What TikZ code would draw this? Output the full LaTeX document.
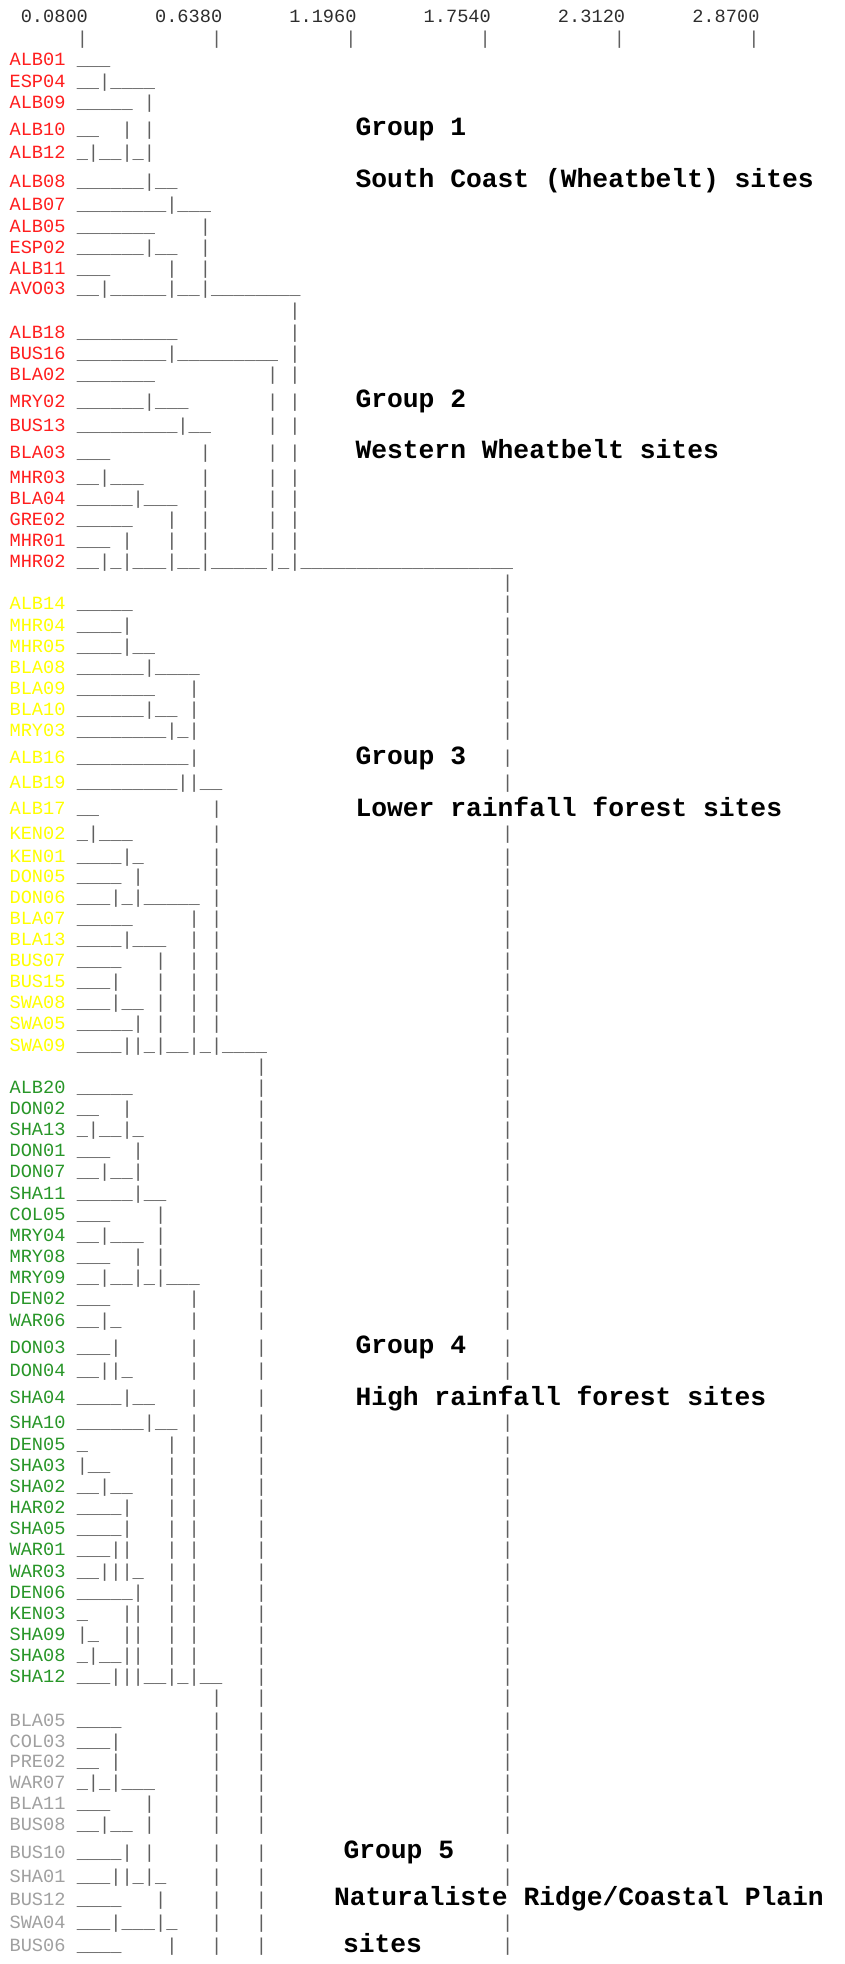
\documentclass[tikz,border=0pt]{standalone}
\usepackage{fontspec}
\newfontfamily\mono{Liberation Mono}
\definecolor{gOne}{RGB}{255,30,30}
\definecolor{gThree}{RGB}{255,255,0}
\definecolor{gFour}{RGB}{40,150,40}
\definecolor{gFive}{RGB}{160,160,160}
\definecolor{treegray}{RGB}{95,95,95}
\definecolor{hdrgray}{RGB}{45,45,45}
\newlength\cw
\newcommand\spc[1]{\hspace*{#1\cw}}
% one site row: label in its group colour, then the tree characters from column 6
\newcommand\site[4]{%
  \node[lbl,text=#2] (#1) at (9.6,{#4+5.6}) {#1};
  \node[tree] (t#1) at (76.75,{#4+5.6}) {#3};}
\begin{document}
\settowidth{\cw}{\mono\fontsize{18.65pt}{20pt}\selectfont M}
\catcode`\_=12
\begin{tikzpicture}[x=1pt,y=-1pt,
  lbl/.style={anchor=base west,inner sep=0pt,outer sep=0pt,
    font=\mono\frenchspacing\fontsize{18.65pt}{20pt}\selectfont},
  tree/.style={lbl,text=treegray},
  hdr/.style={lbl,text=hdrgray},
  grp/.style={anchor=base west,inner sep=0pt,outer sep=0pt,text=black,
    font=\mono\bfseries\frenchspacing\fontsize{26.33pt}{28pt}\selectfont}]
\fill[white] (0,0) rectangle (845,1964);
\useasboundingbox (0,0) rectangle (845,1964);

% distance scale
\node[hdr] (scale) at (9.6,22.9) {\spc{1}0.0800\spc{6}0.6380\spc{6}1.1960\spc{6}1.7540\spc{6}2.3120\spc{6}2.8700};
\node[tree] (ticks) at (9.6,44.5) {\spc{6}|\spc{11}|\spc{11}|\spc{11}|\spc{11}|\spc{11}|};

% group 1 and group 2
\site{ALB01}{gOne}{___}{60}
\site{ESP04}{gOne}{__|____}{81.7}
\site{ALB09}{gOne}{_____\spc{1}|}{103.3}
\site{ALB10}{gOne}{__\spc{2}|\spc{1}|}{130}
\site{ALB12}{gOne}{_|__|_|}{153.3}
\site{ALB08}{gOne}{______|__}{181.7}
\site{ALB07}{gOne}{________|___}{205}
\site{ALB05}{gOne}{_______\spc{4}|}{227.3}
\site{ESP02}{gOne}{______|__\spc{2}|}{248.3}
\site{ALB11}{gOne}{___\spc{5}|\spc{2}|}{269}
\site{AVO03}{gOne}{__|_____|__|________}{289.3}
\node[tree] (gapA) at (76.75,316.6) {\spc{19}|};
\site{ALB18}{gOne}{_________\spc{10}|}{332.7}
\site{BUS16}{gOne}{________|_________\spc{1}|}{354}
\site{BLA02}{gOne}{_______\spc{10}|\spc{1}|}{375}
\site{MRY02}{gOne}{______|___\spc{7}|\spc{1}|}{401.7}
\site{BUS13}{gOne}{_________|__\spc{5}|\spc{1}|}{426}
\site{BLA03}{gOne}{___\spc{8}|\spc{5}|\spc{1}|}{452.7}
\site{MHR03}{gOne}{__|___\spc{5}|\spc{5}|\spc{1}|}{477.7}
\site{BLA04}{gOne}{_____|___\spc{2}|\spc{5}|\spc{1}|}{499.3}
\site{GRE02}{gOne}{_____\spc{3}|\spc{2}|\spc{5}|\spc{1}|}{520}
\site{MHR01}{gOne}{___\spc{1}|\spc{3}|\spc{2}|\spc{5}|\spc{1}|}{541}
\site{MHR02}{gOne}{__|_|___|__|_____|_|___________________}{561.7}
\node[tree] (gapB) at (76.75,588.6) {\spc{38}|};

% group 3
\site{ALB14}{gThree}{_____\spc{33}|}{604.3}
\site{MHR04}{gThree}{____|\spc{33}|}{625.7}
\site{MHR05}{gThree}{____|__\spc{31}|}{646.7}
\site{BLA08}{gThree}{______|____\spc{27}|}{667.7}
\site{BLA09}{gThree}{_______\spc{3}|\spc{27}|}{689.3}
\site{BLA10}{gThree}{______|__\spc{1}|\spc{27}|}{710}
\site{MRY03}{gThree}{________|_|\spc{27}|}{730.7}
\site{ALB16}{gThree}{__________|\spc{27}|}{757.7}
\site{ALB19}{gThree}{_________||__\spc{25}|}{782.7}
\site{ALB17}{gThree}{__\spc{10}|}{809.3}
\site{KEN02}{gThree}{_|___\spc{7}|\spc{25}|}{834}
\site{KEN01}{gThree}{____|_\spc{6}|\spc{25}|}{856.7}
\site{DON05}{gThree}{____\spc{1}|\spc{6}|\spc{25}|}{877.3}
\site{DON06}{gThree}{___|_|_____\spc{1}|\spc{25}|}{898.3}
\site{BLA07}{gThree}{_____\spc{5}|\spc{1}|\spc{25}|}{919.3}
\site{BLA13}{gThree}{____|___\spc{2}|\spc{1}|\spc{25}|}{940}
\site{BUS07}{gThree}{____\spc{3}|\spc{2}|\spc{1}|\spc{25}|}{961}
\site{BUS15}{gThree}{___|\spc{3}|\spc{2}|\spc{1}|\spc{25}|}{981.7}
\site{SWA08}{gThree}{___|__\spc{1}|\spc{2}|\spc{1}|\spc{25}|}{1002.7}
\site{SWA05}{gThree}{_____|\spc{1}|\spc{2}|\spc{1}|\spc{25}|}{1024}
\site{SWA09}{gThree}{____||_|__|_|____\spc{21}|}{1045.7}
\node[tree] (gapC) at (76.75,1072.6) {\spc{16}|\spc{21}|};

% group 4
\site{ALB20}{gFour}{_____\spc{11}|\spc{21}|}{1088.3}
\site{DON02}{gFour}{__\spc{2}|\spc{11}|\spc{21}|}{1109}
\site{SHA13}{gFour}{_|__|_\spc{10}|\spc{21}|}{1130}
\site{DON01}{gFour}{___\spc{2}|\spc{10}|\spc{21}|}{1150.7}
\site{DON07}{gFour}{__|__|\spc{10}|\spc{21}|}{1172.3}
\site{SHA11}{gFour}{_____|__\spc{8}|\spc{21}|}{1193.5}
\site{COL05}{gFour}{___\spc{4}|\spc{8}|\spc{21}|}{1215}
\site{MRY04}{gFour}{__|___\spc{1}|\spc{8}|\spc{21}|}{1236}
\site{MRY08}{gFour}{___\spc{2}|\spc{1}|\spc{8}|\spc{21}|}{1256.7}
\site{MRY09}{gFour}{__|__|_|___\spc{5}|\spc{21}|}{1277.7}
\site{DEN02}{gFour}{___\spc{7}|\spc{5}|\spc{21}|}{1299.3}
\site{WAR06}{gFour}{__|_\spc{6}|\spc{5}|\spc{21}|}{1320.7}
\site{DON03}{gFour}{___|\spc{6}|\spc{5}|\spc{21}|}{1347.7}
\site{DON04}{gFour}{__||_\spc{5}|\spc{5}|\spc{21}|}{1371.2}
\site{SHA04}{gFour}{____|__\spc{3}|\spc{5}|}{1397.8}
\site{SHA10}{gFour}{______|__\spc{1}|\spc{5}|\spc{21}|}{1422.5}
\site{DEN05}{gFour}{_\spc{7}|\spc{1}|\spc{5}|\spc{21}|}{1444.5}
\site{SHA03}{gFour}{|__\spc{5}|\spc{1}|\spc{5}|\spc{21}|}{1466}
\site{SHA02}{gFour}{__|__\spc{3}|\spc{1}|\spc{5}|\spc{21}|}{1487.3}
\site{HAR02}{gFour}{____|\spc{3}|\spc{1}|\spc{5}|\spc{21}|}{1508.3}
\site{SHA05}{gFour}{____|\spc{3}|\spc{1}|\spc{5}|\spc{21}|}{1529}
\site{WAR01}{gFour}{___||\spc{3}|\spc{1}|\spc{5}|\spc{21}|}{1550}
\site{WAR03}{gFour}{__|||_\spc{2}|\spc{1}|\spc{5}|\spc{21}|}{1571.7}
\site{DEN06}{gFour}{_____|\spc{2}|\spc{1}|\spc{5}|\spc{21}|}{1592.7}
\site{KEN03}{gFour}{_\spc{3}||\spc{2}|\spc{1}|\spc{5}|\spc{21}|}{1614}
\site{SHA09}{gFour}{|_\spc{2}||\spc{2}|\spc{1}|\spc{5}|\spc{21}|}{1635}
\site{SHA08}{gFour}{_|__||\spc{2}|\spc{1}|\spc{5}|\spc{21}|}{1656}
\site{SHA12}{gFour}{___|||__|_|__\spc{3}|\spc{21}|}{1676.7}
\node[tree] (gapD) at (76.75,1703.6) {\spc{12}|\spc{3}|\spc{21}|};

% group 5
\site{BLA05}{gFive}{____\spc{8}|\spc{3}|\spc{21}|}{1720.7}
\site{COL03}{gFive}{___|\spc{8}|\spc{3}|\spc{21}|}{1741.7}
\site{PRE02}{gFive}{__\spc{1}|\spc{8}|\spc{3}|\spc{21}|}{1762.3}
\site{WAR07}{gFive}{_|_|___\spc{5}|\spc{3}|\spc{21}|}{1783.3}
\site{BLA11}{gFive}{___\spc{3}|\spc{5}|\spc{3}|\spc{21}|}{1804}
\site{BUS08}{gFive}{__|__\spc{1}|\spc{5}|\spc{3}|\spc{21}|}{1825}
\site{BUS10}{gFive}{____|\spc{1}|\spc{5}|\spc{3}|\spc{21}|}{1852.7}
\site{SHA01}{gFive}{___||_|_\spc{4}|\spc{3}|\spc{21}|}{1877.3}
\site{BUS12}{gFive}{____\spc{3}|\spc{4}|\spc{3}|}{1899.8}
\site{SWA04}{gFive}{___|___|_\spc{3}|\spc{3}|\spc{21}|}{1923}
\site{BUS06}{gFive}{____\spc{4}|\spc{3}|\spc{3}|\spc{21}|}{1946.3}

% group captions
\node[grp] (capA) at (355.5,135.5) {Group 1};
\node[grp] (capAt) at (355.5,188) {South Coast (Wheatbelt) sites};
\node[grp] (capB) at (355.5,407.5) {Group 2};
\node[grp] (capBt) at (355.5,458.5) {Western Wheatbelt sites};
\node[grp] (capC) at (355.5,764.5) {Group 3};
\node[grp] (capCt) at (355.5,816.8) {Lower rainfall forest sites};
\node[grp] (capD) at (355.5,1353.5) {Group 4};
\node[grp] (capDt) at (355.5,1405.8) {High rainfall forest sites};
\node[grp] (capE) at (343.5,1858.2) {Group 5};
\node[grp] (capEt) at (334,1905.8) {Naturaliste Ridge/Coastal Plain};
\node[grp] (capEs) at (343,1952.5) {sites};
\end{tikzpicture}
\end{document}
